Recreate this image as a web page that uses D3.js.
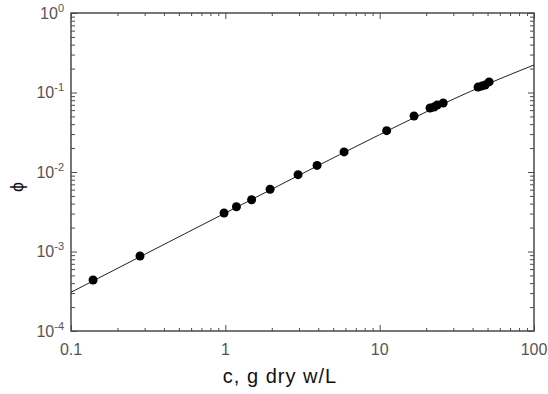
<!DOCTYPE html>
<html>
<head>
<meta charset="utf-8">
<script src="https://cdn.jsdelivr.net/npm/d3@7"></script>
<style>
body{margin:0;background:#fff;}
svg{display:block;font-family:"Liberation Sans",Arial,sans-serif;}
</style>
</head>
<body>
<svg id="chart" width="548" height="394"></svg>
<script>
// measured points: concentration c (g dry w/L) and volume fraction phi
var cData = [0.139, 0.280, 0.981, 1.18, 1.48, 1.95, 2.96, 3.93, 5.88, 11.1, 16.7,
	21.2, 22.5, 23.6, 25.8, 43.4, 46.1, 48.2, 51.2];
var phiData = [4.38e-4, 8.77e-4, 3.05e-3, 3.66e-3, 4.48e-3, 6.06e-3, 9.25e-3, 1.21e-2, 1.79e-2, 3.31e-2, 5.06e-2,
	6.38e-2, 6.57e-2, 6.96e-2, 7.38e-2, 0.117, 0.121, 0.124, 0.136];
// fitted curve
var fitC = [0.1, 0.3, 1, 3, 10, 20, 30, 50, 70, 100];
var fitPhi = [3.07e-4, 9.2e-4, 3.05e-3, 9.1e-3, 2.95e-2, 5.7e-2, 8.25e-2, 0.128, 0.168, 0.222];
var xMajor = [0.1, 1, 10, 100];
var xLabels = ["0.1", "1", "10", "100"];
var yMajor = [1e-4, 1e-3, 1e-2, 1e-1, 1];
var yExp = ["-4", "-3", "-2", "-1", "0"];

var svg = d3.select("#chart"),
	margin = {left: 71, top: 13},
	w = 463, h = 318,
	axisColor = "#4a4a4a";

var x = d3.scaleLog().domain([0.1, 100]).range([0, w]),
	y = d3.scaleLog().domain([1e-4, 1]).range([h, 0]);

var g = svg.append("g").attr("transform", "translate(" + margin.left + "," + margin.top + ")");

var xMinor = x.ticks().filter(function(d){ return xMajor.indexOf(d) < 0; }),
	yMinor = y.ticks().filter(function(d){ return yMajor.every(function(m){ return Math.abs(m - d) / m > 1e-6; }); });

function tickAxis(axisFn, scale, values, size, transform){
	var a = g.append("g").attr("transform", transform || null)
		.call(axisFn(scale).tickValues(values).tickSize(size).tickFormat(""));
	a.select(".domain").remove();
	a.selectAll("line").attr("stroke", axisColor).attr("stroke-width", 1);
	return a;
}
// ticks point into the plot on all four sides
tickAxis(d3.axisBottom, x, xMajor, -6, "translate(0," + h + ")");
tickAxis(d3.axisBottom, x, xMinor, -3, "translate(0," + h + ")");
tickAxis(d3.axisTop, x, xMajor, -6);
tickAxis(d3.axisTop, x, xMinor, -3);
tickAxis(d3.axisLeft, y, yMajor, -6);
tickAxis(d3.axisLeft, y, yMinor, -4);
tickAxis(d3.axisRight, y, yMajor, -6, "translate(" + w + ",0)");
tickAxis(d3.axisRight, y, yMinor, -4, "translate(" + w + ",0)");

g.append("rect").attr("width", w).attr("height", h)
	.attr("fill", "none").attr("stroke", axisColor).attr("stroke-width", 1.5);

// tick labels
g.selectAll(".xlab").data(xMajor).enter().append("text")
	.attr("class", "xlab")
	.attr("x", function(d){ return x(d); })
	.attr("y", h + 24)
	.attr("text-anchor", "middle")
	.attr("font-size", 16)
	.attr("fill", "#555")
	.text(function(d, i){ return xLabels[i]; });

var yl = g.selectAll(".ylab").data(yMajor).enter().append("text")
	.attr("class", "ylab")
	.attr("x", -7)
	.attr("y", function(d){ return y(d) + 5.5; })
	.attr("text-anchor", "end")
	.attr("font-size", 16)
	.attr("fill", "#555");
yl.append("tspan").text("10");
yl.append("tspan").attr("dy", -7).attr("font-size", 11).text(function(d, i){ return yExp[i]; });

// fit line
var line = d3.line()
	.x(function(d){ return x(d[0]); })
	.y(function(d){ return y(d[1]); })
	.curve(d3.curveMonotoneX);
g.append("path")
	.datum(fitC.map(function(c, i){ return [c, fitPhi[i]]; }))
	.attr("d", line)
	.attr("fill", "none")
	.attr("stroke", "#222")
	.attr("stroke-width", 1);

// data points
g.selectAll(".dot").data(cData).enter().append("circle")
	.attr("class", "dot")
	.attr("cx", function(d){ return x(d); })
	.attr("cy", function(d, i){ return y(phiData[i]); })
	.attr("r", 4.5)
	.attr("fill", "#000");

// axis titles
svg.append("text")
	.attr("x", 280)
	.attr("y", 383)
	.attr("text-anchor", "middle")
	.attr("font-size", 20)
	.attr("letter-spacing", 1)
	.attr("fill", "#111")
	.text("c, g dry w/L");
svg.append("text")
	.attr("transform", "translate(23,187) rotate(-90)")
	.attr("text-anchor", "middle")
	.attr("font-size", 18)
	.attr("fill", "#111")
	.text("ϕ");
</script>
</body>
</html>
